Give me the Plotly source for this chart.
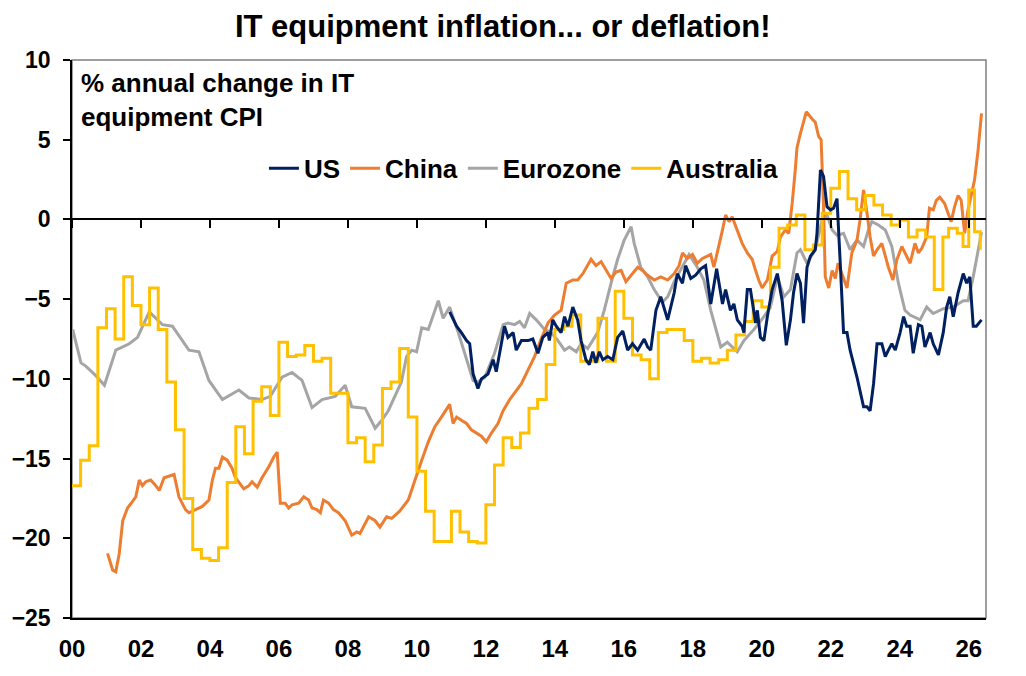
import plotly.graph_objects as go

# ---------------- data (decimal years, % y/y) ----------------
us_x = [2010.95, 2011.15, 2011.29, 2011.44, 2011.53, 2011.63, 2011.77, 2011.87, 2012.06, 2012.21,
        2012.30, 2012.45, 2012.54, 2012.64, 2012.79, 2012.88, 2013.03, 2013.22, 2013.36, 2013.51,
        2013.65, 2013.80, 2013.84, 2013.94, 2014.04, 2014.18, 2014.28, 2014.38, 2014.52, 2014.66,
        2014.76, 2014.90, 2015.00, 2015.10, 2015.19, 2015.29, 2015.39, 2015.53, 2015.68, 2015.82,
        2015.97, 2016.11, 2016.25, 2016.40, 2016.59, 2016.69, 2016.78, 2016.93, 2017.07, 2017.27,
        2017.46, 2017.55, 2017.70, 2017.79, 2017.94, 2018.08, 2018.23, 2018.37, 2018.52, 2018.69,
        2018.86, 2018.95, 2019.09, 2019.19, 2019.29, 2019.43, 2019.48, 2019.58, 2019.67, 2019.82,
        2019.87, 2019.96, 2020.06, 2020.16, 2020.30, 2020.45, 2020.59, 2020.71, 2020.83, 2020.92,
        2021.02, 2021.12, 2021.21, 2021.31, 2021.41, 2021.55, 2021.60, 2021.70, 2021.79, 2021.89,
        2021.99, 2022.08, 2022.18, 2022.28, 2022.37, 2022.47, 2022.56, 2022.76, 2022.95, 2023.05,
        2023.14, 2023.24, 2023.34, 2023.48, 2023.58, 2023.67, 2023.77, 2023.87, 2024.01, 2024.11,
        2024.20, 2024.30, 2024.39, 2024.54, 2024.64, 2024.73, 2024.88, 2024.97, 2025.12, 2025.26,
        2025.36, 2025.45, 2025.55, 2025.69, 2025.84, 2025.94, 2026.03, 2026.13, 2026.22, 2026.37]
us_y = [-5.8, -6.7, -7.1, -7.6, -7.8, -9.7, -10.6, -10.0, -9.7, -8.8,
        -9.55, -7.6, -6.7, -7.4, -7.1, -8.2, -7.6, -7.6, -7.5, -8.4,
        -7.4, -7.1, -7.6, -6.3, -6.7, -7.1, -6.1, -6.7, -5.5, -6.3,
        -7.6, -8.8, -9.1, -8.3, -9.0, -8.3, -8.8, -8.6, -8.8, -7.4,
        -7.0, -8.2, -7.8, -8.2, -7.5, -8.0, -8.2, -5.7, -4.85, -6.3,
        -4.6, -3.4, -4.0, -2.9, -3.7, -3.5, -3.1, -2.9, -5.3, -3.1,
        -5.3, -4.4, -5.7, -5.3, -6.3, -6.7, -7.1, -4.4, -4.4, -6.5,
        -5.7, -7.4, -7.6, -6.1, -4.4, -3.4, -5.1, -7.9, -6.3, -4.6,
        -3.4, -4.0, -6.5, -3.0, -2.3, -1.9, -0.87, 3.1, 2.7, 0.8,
        0.6, 0.7, 1.3, -3.0, -7.1, -7.1, -8.2, -9.9, -11.75, -11.75,
        -12.0, -10.3, -7.8, -7.8, -8.6, -8.2, -7.8, -8.2, -7.1, -6.1,
        -6.7, -6.7, -8.4, -6.6, -6.7, -8.0, -7.1, -7.8, -8.5, -7.1,
        -5.5, -4.85, -6.1, -4.6, -3.4, -4.0, -3.6, -6.7, -6.7, -6.3]

china_x = [2001.03, 2001.18, 2001.27, 2001.37, 2001.47, 2001.61, 2001.75, 2001.85, 2001.95, 2002.04,
           2002.14, 2002.28, 2002.43, 2002.53, 2002.67, 2002.82, 2002.96, 2003.10, 2003.29, 2003.39,
           2003.58, 2003.78, 2003.97, 2004.07, 2004.16, 2004.26, 2004.36, 2004.50, 2004.64, 2004.74,
           2004.98, 2005.13, 2005.22, 2005.37, 2005.51, 2005.71, 2005.85, 2005.95, 2006.04, 2006.18,
           2006.28, 2006.38, 2006.57, 2006.72, 2006.86, 2006.96, 2007.10, 2007.20, 2007.29, 2007.44,
           2007.58, 2007.73, 2007.92, 2008.11, 2008.26, 2008.35, 2008.60, 2008.79, 2008.93, 2009.12,
           2009.27, 2009.50, 2009.75, 2009.94, 2010.14, 2010.33, 2010.52, 2010.71, 2010.86, 2010.95,
           2011.05, 2011.15, 2011.29, 2011.44, 2011.58, 2011.73, 2011.87, 2012.01, 2012.16, 2012.35,
           2012.50, 2012.69, 2012.83, 2013.03, 2013.22, 2013.41, 2013.60, 2013.80, 2013.99, 2014.18,
           2014.33, 2014.52, 2014.66, 2014.81, 2015.05, 2015.19, 2015.34, 2015.48, 2015.63, 2015.77,
           2015.92, 2016.06, 2016.21, 2016.40, 2016.54, 2016.69, 2016.88, 2017.07, 2017.27, 2017.46,
           2017.60, 2017.70, 2017.84, 2017.99, 2018.13, 2018.28, 2018.42, 2018.52, 2018.61, 2018.76,
           2018.86, 2018.95, 2019.05, 2019.14, 2019.29, 2019.43, 2019.58, 2019.72, 2019.82, 2019.91,
           2020.01, 2020.16, 2020.30, 2020.45, 2020.54, 2020.68, 2020.78, 2020.88, 2020.97, 2021.02,
           2021.12, 2021.29, 2021.46, 2021.55, 2021.65, 2021.72, 2021.79, 2021.84, 2021.94, 2022.04,
           2022.13, 2022.21, 2022.32, 2022.47, 2022.61, 2022.76, 2022.85, 2022.95, 2023.05, 2023.14,
           2023.24, 2023.34, 2023.48, 2023.58, 2023.67, 2023.80, 2023.92, 2024.06, 2024.15, 2024.30,
           2024.44, 2024.54, 2024.64, 2024.78, 2024.86, 2024.97, 2025.06, 2025.16, 2025.30, 2025.40,
           2025.49, 2025.59, 2025.69, 2025.78, 2025.88, 2025.98, 2026.07, 2026.17, 2026.27, 2026.37]
china_y = [-20.95, -22.0, -22.1, -20.95, -18.9, -18.1, -17.7, -17.4, -16.35, -16.7,
           -16.45, -16.35, -16.7, -17.0, -16.2, -16.1, -16.0, -17.4, -18.2, -18.4,
           -18.2, -18.0, -17.6, -16.35, -15.6, -15.6, -14.9, -15.1, -15.6, -16.2,
           -16.9, -16.7, -16.45, -16.8, -16.2, -15.5, -14.9, -14.6, -17.8, -17.8,
           -18.1, -17.9, -17.8, -17.4, -17.6, -18.1, -18.2, -18.4, -17.6, -17.8,
           -18.2, -18.4, -18.9, -19.8, -19.6, -19.7, -18.65, -18.9, -19.3, -18.65,
           -18.75, -18.3, -17.6, -16.35, -15.1, -13.95, -13.0, -12.4, -11.85, -11.6,
           -12.8, -12.4, -12.6, -12.8, -13.2, -13.4, -13.6, -13.95, -13.4, -12.8,
           -12.0, -11.3, -10.9, -10.3, -9.45, -8.6, -7.5, -6.5, -6.0, -5.7,
           -4.0, -3.8, -3.8, -3.4, -2.5, -2.9, -2.65, -3.2, -3.7, -3.3,
           -3.2, -3.9, -3.5, -3.0, -3.2, -3.5, -3.8, -3.6, -3.8, -3.4,
           -2.9, -2.1, -2.45, -2.2, -2.75, -2.45, -2.3, -2.2, -3.0, -1.7,
           -0.66, 0.28, -0.14, 0.17, -0.66, -1.5, -2.1, -2.5, -3.2, -3.8,
           -4.3, -3.8, -2.3, -2.0, -1.1, -0.66, -0.87, 1.0, 3.1, 4.5,
           5.4, 6.75, 6.3, 6.1, 5.2, 5.0, 0.8, -3.6, -4.3, -3.2,
           -3.7, -2.75, -3.4, -4.3, -2.1, -1.3, 0.0, 1.85, 0.4, -1.1,
           -2.3, -1.9, -1.5, -2.3, -3.0, -3.8, -2.5, -1.7, -2.1, -2.75,
           -1.5, -2.1, -1.8, -1.1, 0.7, 0.6, 1.2, 1.4, 1.0, 0.4,
           -0.14, 0.8, 1.5, 1.2, -0.87, 0.6, 1.6, 2.5, 4.35, 6.65]

euro_x = [2000.02, 2000.26, 2000.40, 2000.69, 2000.94, 2001.27, 2001.66, 2001.90, 2002.24, 2002.62,
          2002.91, 2003.39, 2003.68, 2003.97, 2004.36, 2004.84, 2005.13, 2005.51, 2005.75, 2006.09,
          2006.38, 2006.67, 2006.96, 2007.25, 2007.63, 2007.92, 2008.11, 2008.50, 2008.79, 2008.98,
          2009.17, 2009.36, 2009.55, 2009.70, 2009.85, 2009.99, 2010.14, 2010.33, 2010.62, 2010.76,
          2010.95, 2011.20, 2011.39, 2011.63, 2011.77, 2011.97, 2012.25, 2012.50, 2012.64, 2012.83,
          2012.98, 2013.12, 2013.27, 2013.46, 2013.70, 2013.89, 2014.09, 2014.28, 2014.42, 2014.62,
          2014.76, 2014.95, 2015.24, 2015.43, 2015.63, 2015.82, 2016.01, 2016.21, 2016.30, 2016.49,
          2016.69, 2016.88, 2017.12, 2017.27, 2017.46, 2017.70, 2017.89, 2018.13, 2018.32, 2018.52,
          2018.81, 2019.00, 2019.29, 2019.48, 2019.77, 2020.06, 2020.25, 2020.45, 2020.64, 2020.83,
          2021.02, 2021.12, 2021.31, 2021.55, 2021.75, 2021.89, 2022.04, 2022.18, 2022.37, 2022.56,
          2022.76, 2022.95, 2023.09, 2023.19, 2023.38, 2023.58, 2023.77, 2023.96, 2024.15, 2024.30,
          2024.59, 2024.78, 2024.97, 2025.26, 2025.55, 2025.84, 2025.98, 2026.13, 2026.27, 2026.37]
euro_y = [-6.9, -9.0, -9.2, -9.8, -10.4, -8.2, -7.8, -7.4, -5.8, -6.6,
          -6.7, -8.2, -8.3, -10.1, -11.3, -10.7, -11.2, -11.3, -11.1, -9.9,
          -9.6, -10.1, -11.8, -11.3, -11.1, -10.4, -11.75, -11.85, -13.1, -12.6,
          -12.0, -11.1, -10.2, -8.6, -8.2, -8.3, -6.8, -6.9, -5.1, -6.2,
          -5.5, -7.1, -8.4, -10.1, -10.2, -9.9, -8.4, -6.6, -6.5, -6.6,
          -6.4, -6.8, -5.9, -6.3, -6.9, -7.1, -7.6, -8.2, -8.0, -8.3,
          -7.8, -8.1, -7.1, -5.7, -4.0, -2.5, -1.3, -0.46, -1.5, -3.0,
          -3.6, -4.4, -5.2, -4.85, -3.9, -3.0, -2.2, -3.0, -3.8, -5.7,
          -8.0, -7.7, -8.3, -7.6, -6.9, -6.1, -5.5, -3.6, -4.85, -4.4,
          -2.1, -1.9, -2.75, -1.9, 0.0, 0.28, -0.66, -1.0, -0.87, -1.9,
          -1.3, -1.7, -0.66, -0.14, -0.35, -0.66, -1.7, -4.0, -5.7, -6.0,
          -6.3, -5.5, -5.9, -5.6, -5.5, -5.1, -5.1, -3.6, -1.9, -0.8]

# Australia: quarterly CPI (held flat through each quarter), then monthly readings
aus_quarterly = [-16.7, -15.1, -14.2, -6.8, -5.6, -7.5, -3.6, -5.4, -6.6, -4.3,
                 -6.9, -10.2, -13.2, -17.5, -20.7, -21.25, -21.4, -20.6, -16.5, -13.0,
                 -14.7, -11.4, -10.5, -12.3, -7.7, -8.6, -8.5, -7.9, -8.9, -8.7,
                 -10.9, -10.9, -14.0, -13.7, -15.2, -14.15, -10.6, -10.2, -8.1, -12.4,
                 -15.8, -18.3, -20.2, -20.2, -18.3, -19.6, -20.2, -20.3, -17.9, -15.4,
                 -13.7, -14.3, -13.4, -11.85, -11.3, -9.1, -6.9, -6.7, -6.0, -8.9,
                 -8.9, -6.2, -8.9, -4.5, -6.2, -8.5, -8.8, -10.0, -7.1, -6.9,
                 -6.9, -7.6, -8.9, -8.7, -9.0, -8.8, -8.2, -7.25, -6.4, -5.1,
                 -5.5, -3.0, -0.56, -0.35, 0.28, -1.9, -1.6, 0.38, 1.95, 3.0,
                 1.3, 0.6, 1.5, 0.9, 0.28, -0.35, -0.04, -1.1, -0.66, -1.1,
                 -4.4]
aus_monthly = [-1.1, -1.1, -0.55, -0.55, -0.55, -0.87, -0.87, -1.7, -1.7,
               1.85, 1.85, -0.77, -0.77, -1.9]   # Apr 2025 .. May 2026

aus_x = [2000 + 0.25 * k for k in range(len(aus_quarterly))] + \
        [2025.25 + m / 12 for m in range(len(aus_monthly))]
aus_y = aus_quarterly + aus_monthly

year_ticks = list(range(2000, 2027, 2))
year_labels = ["00", "02", "04", "06", "08", "10", "12", "14", "16", "18", "20", "22", "24", "26"]
y_ticks = [-25, -20, -15, -10, -5, 0, 5, 10]

series = [
    ("US", us_x, us_y, "#002060", "linear"),
    ("China", china_x, china_y, "#ED7D31", "linear"),
    ("Eurozone", euro_x, euro_y, "#A5A5A5", "linear"),
    ("Australia", aus_x, aus_y, "#FFC000", "hv"),
]

FONT = "Liberation Sans, Arial, sans-serif"
X_RANGE = [2000, 2026.5]
Y_RANGE = [-25, 10]

fig = go.Figure()

draw_order = {"Eurozone": 0, "China": 1, "Australia": 2, "US": 3}
legend_rank = {"US": 1, "China": 2, "Eurozone": 3, "Australia": 4}
for name, xs, ys, col, shape in sorted(series, key=lambda t: draw_order[t[0]]):
    fig.add_trace(go.Scatter(
        x=xs, y=ys, mode="lines", name=name,
        line=dict(color=col, width=3, shape=shape),
        legendrank=legend_rank[name],
        hoverinfo="skip",
    ))

# empty trace that carries the axis drawn along y = 0
fig.add_trace(go.Scatter(x=[None], y=[None], xaxis="x2", yaxis="y",
                         showlegend=False, hoverinfo="skip"))

fig.update_layout(
    width=1026, height=676,
    margin=dict(l=69, r=40, t=60, b=58),
    paper_bgcolor="white", plot_bgcolor="white",
    font=dict(family=FONT, color="black", size=24),
    title=dict(text="IT equipment inflation... or deflation!",
               x=0.49, xanchor="center", y=0.962, yanchor="middle",
               font=dict(family=FONT, size=31, weight="bold", color="black")),
    xaxis=dict(range=X_RANGE, tickvals=year_ticks, ticktext=year_labels,
               showgrid=False, zeroline=False, showline=True, linecolor="black",
               linewidth=1.5, ticks="", ticklabelstandoff=8,
               tickfont=dict(family=FONT, size=24, weight="bold")),
    xaxis2=dict(range=X_RANGE, overlaying="x", anchor="free",
                position=(0 - Y_RANGE[0]) / (Y_RANGE[1] - Y_RANGE[0]),
                tickvals=year_ticks, showticklabels=False,
                showgrid=False, zeroline=False, showline=True, linecolor="black",
                linewidth=1.5, ticks="outside", ticklen=8, tickwidth=1.5, tickcolor="black"),
    yaxis=dict(range=Y_RANGE, tickvals=y_ticks, showgrid=False, zeroline=False,
               showline=True, linecolor="black", linewidth=1.5,
               ticks="outside", ticklen=7, tickwidth=1.5, tickcolor="black",
               ticklabelstandoff=8,
               tickfont=dict(family=FONT, size=23, weight="bold")),
    legend=dict(orientation="h", x=0.21, xanchor="left", y=0.806, yanchor="middle",
                bgcolor="rgba(0,0,0,0)", font=dict(family=FONT, size=26, weight="bold"),
                traceorder="normal", itemwidth=30),
    showlegend=True,
    shapes=[dict(type="rect", xref="paper", yref="paper", x0=0, x1=1, y0=0, y1=1,
                 line=dict(color="#7F7F7F", width=1.5), layer="below")],
    annotations=[dict(text="% annual change in IT<br>equipment CPI",
                      xref="paper", yref="paper", x=0.008, y=0.99,
                      xanchor="left", yanchor="top", align="left", showarrow=False,
                      font=dict(family=FONT, size=26, weight="bold", color="black"))],
)

fig.write_html("out.html")
